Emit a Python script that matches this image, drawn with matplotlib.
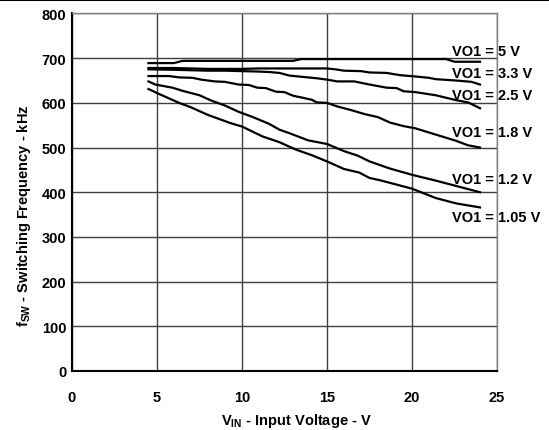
import matplotlib
matplotlib.use("Agg")
import matplotlib.pyplot as plt
from matplotlib.lines import Line2D

plt.rcParams['font.family'] = ['Liberation Sans', 'DejaVu Sans']
plt.rcParams['font.weight'] = 'bold'
plt.rcParams['mathtext.fontset'] = 'custom'
plt.rcParams['mathtext.rm'] = 'Liberation Sans:bold'
plt.rcParams['mathtext.bf'] = 'Liberation Sans:bold'
plt.rcParams['mathtext.it'] = 'Liberation Sans:bold'

# Data (Vin in V, fsw in kHz)
v_5 = [4.5, 6.0, 6.5, 13.0, 13.5, 22.0, 22.5, 24.0]
f_5 = [689, 689, 694, 694, 698, 698, 692, 692]

v_33 = [4.5, 6, 7, 8, 9, 10, 11, 12, 13, 14, 15, 15.5, 16, 17, 17.5, 18.5, 19.3, 20.2, 21, 21.4, 22.6, 23.5, 24]
f_33 = [678, 678, 677, 676, 676, 676, 677, 677, 677, 677, 677, 675, 672, 671, 668, 667, 662, 659, 656, 653, 650, 647, 641]

v_25 = [4.5, 6, 7, 8, 9, 10, 11, 11.6, 12.2, 12.8, 14.4, 15, 15.6, 16.6, 17.5, 18.5, 19.1, 19.5, 20.2, 21.4, 22.6, 23.3, 24]
f_25 = [675, 674, 673, 672, 672, 671, 670, 669, 667, 661, 655, 652, 648, 648, 641, 634, 633, 626, 624, 617, 606, 601, 588]

v_18 = [4.5, 5.7, 6.3, 7.1, 7.6, 8.4, 9.0, 9.8, 10.4, 10.9, 11.4, 12.0, 12.5, 13.0, 13.5, 14.1, 14.4, 15.0, 15.6, 16.4, 17.2, 18.0, 18.7, 19.5, 20.2, 21.4, 22.6, 23.3, 24]
f_18 = [660, 660, 657, 656, 652, 648, 647, 641, 640, 634, 633, 625, 624, 616, 612, 607, 601, 600, 592, 584, 575, 568, 556, 548, 543, 529, 515, 505, 500]

v_12 = [4.5, 4.9, 5.9, 6.5, 7.5, 8.2, 9.0, 9.8, 10.65, 11.6, 12.2, 12.8, 13.9, 15.0, 16.0, 16.8, 17.5, 18.7, 20.0, 21.4, 22.6, 24]
f_12 = [648, 641, 634, 627, 617, 605, 594, 580, 568, 553, 540, 532, 516, 508, 492, 482, 469, 453, 439, 426, 414, 400]

v_105 = [4.5, 5.0, 6.3, 7.0, 8.0, 9.3, 10.0, 11.2, 12.2, 13.2, 14.1, 15.0, 16.0, 16.9, 17.5, 18.1, 20.0, 21.4, 22.6, 24]
f_105 = [631, 622, 600, 590, 573, 555, 547, 525, 512, 495, 483, 469, 452, 444, 432, 427, 408, 387, 375, 366]

series = [(v_5, f_5), (v_33, f_33), (v_25, f_25), (v_18, f_18), (v_12, f_12), (v_105, f_105)]
labels = ['VO1 = 5 V', 'VO1 = 3.3 V', 'VO1 = 2.5 V', 'VO1 = 1.8 V', 'VO1 = 1.2 V', 'VO1 = 1.05 V']
label_y = [716, 667, 618, 535, 430, 345]

x_ticks = [0, 5, 10, 15, 20, 25]
y_ticks = [0, 100, 200, 300, 400, 500, 600, 700, 800]

FS = 10.5

fig = plt.figure(figsize=(5.49, 4.31), dpi=100)
ax = fig.add_axes([0.1311, 0.1369, 0.9053 - 0.1311, 0.9664 - 0.1369])

for v, f in series:
    ax.plot(v, f, color='black', lw=1.6, zorder=3)

for lab, ly in zip(labels, label_y):
    ax.text(22.35, ly, lab, fontsize=FS, fontweight='bold', ha='left', va='center',
            clip_on=False, zorder=4)

ax.set_xlim(0, 25)
ax.set_ylim(0, 800)
ax.set_xticks(x_ticks)
ax.set_yticks(y_ticks)
ax.tick_params(length=0, labelsize=FS)
ax.tick_params(axis='x', pad=14)
ax.tick_params(axis='y', pad=4)
for t in ax.get_xticklabels() + ax.get_yticklabels():
    t.set_fontweight('bold')

ax.grid(True, color='#404040', lw=1.0)
ax.set_axisbelow(True)
for s in ['top', 'right']:
    ax.spines[s].set_color('#808080')
    ax.spines[s].set_linewidth(1.0)
for s in ['left', 'bottom']:
    ax.spines[s].set_color('black')
    ax.spines[s].set_linewidth(1.5)

ax.set_xlabel(r'V$_{\mathrm{IN}}$ - Input Voltage - V', fontsize=FS, fontweight='bold')
ax.set_ylabel(r'f$_{\mathrm{SW}}$ - Switching Frequency - kHz', fontsize=FS, fontweight='bold')
ax.xaxis.set_label_coords(0.527, -0.112)
ax.yaxis.set_label_coords(-0.092, 0.436)

fig.add_artist(Line2D([0, 1], [0.998, 0.998], transform=fig.transFigure, color='black', lw=1.5))

fig.savefig('out.png', dpi=100)
